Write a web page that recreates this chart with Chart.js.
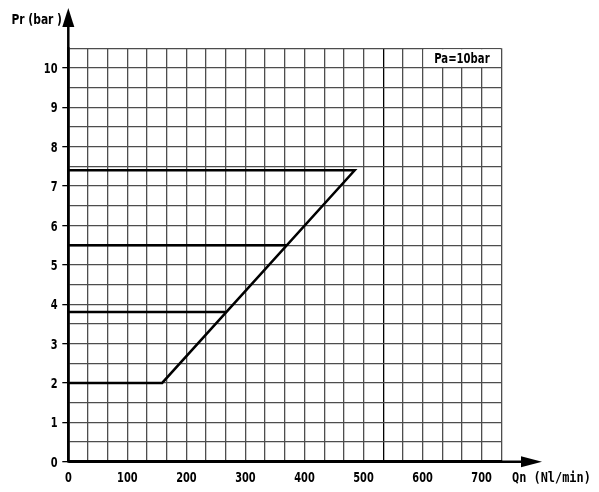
<!DOCTYPE html>
<html>
<head>
<meta charset="utf-8">
<script src="https://cdn.jsdelivr.net/npm/chart.js@4.4.1/dist/chart.umd.min.js"></script>
<style>
  body { margin: 0; background: #fff; }
  #wrap { width: 599px; height: 492px; position: relative; }
</style>
</head>
<body>
<div id="wrap"><canvas id="chart"></canvas></div>
<script>
// flow curve at Pa = 10 bar
const outerQ = [0, 485, 159, 0];
const outerP = [7.4, 7.4, 2, 2];
const midQ = [0, 369];
const midP = [5.5, 5.5];
const lowQ = [0, 266];
const lowP = [3.8, 3.8];

const xLabels = [0, 100, 200, 300, 400, 500, 600, 700];
const yLabels = [0, 1, 2, 3, 4, 5, 6, 7, 8, 9, 10];
const xMax = 2200 / 3;
const yMax = 10.5;

const FONT = "'DejaVu Sans Condensed', 'DejaVu Sans', sans-serif";
const MONO = "'DejaVu Sans Mono', monospace";

function pts(xs, ys) {
  return xs.map((x, i) => ({ x: x, y: ys[i] }));
}

function lineSet(xs, ys) {
  return {
    data: pts(xs, ys),
    showLine: true,
    borderColor: '#000',
    borderWidth: 2.5,
    pointRadius: 0,
    tension: 0,
    fill: false
  };
}

const near = (a, b) => Math.abs(a - b) < 1e-6;

// squeezed text, the drawing uses a narrow lettering
function narrowText(ctx, text, x, y, align, sx, font) {
  ctx.save();
  ctx.font = font;
  ctx.textAlign = align;
  ctx.textBaseline = 'middle';
  ctx.translate(x, y);
  ctx.scale(sx, 1);
  ctx.fillText(text, 0, 0);
  ctx.restore();
}

const axesPlugin = {
  id: 'axesPlugin',
  afterDraw(chart) {
    const ctx = chart.ctx;
    const x = chart.scales.x, y = chart.scales.y;
    const x0 = x.getPixelForValue(0), y0 = y.getPixelForValue(0);
    const lblFont = 'bold 14px ' + FONT;

    ctx.save();
    ctx.fillStyle = '#000';

    // tick labels
    xLabels.forEach(v => narrowText(ctx, String(v), x.getPixelForValue(v), y0 + 16.5, 'center', 0.78, lblFont));
    yLabels.forEach(v => narrowText(ctx, String(v), 57.5, y.getPixelForValue(v) + 1.5, 'right', 0.78, lblFont));

    // Pa box in the top row
    const bl = x.getPixelForValue(600), br = x.getPixelForValue(xMax);
    const bt = y.getPixelForValue(yMax), bb = y.getPixelForValue(10);
    ctx.fillStyle = '#fff';
    ctx.fillRect(bl + 1, bt + 1, br - bl - 2, bb - bt - 2);
    ctx.fillStyle = '#000';
    narrowText(ctx, 'Pa=10bar', (bl + br) / 2, (bt + bb) / 2 + 1, 'center', 0.8, lblFont);

    // axis extensions and arrows
    ctx.strokeStyle = '#000';
    ctx.lineWidth = 2.5;
    ctx.beginPath();
    ctx.moveTo(x0, y0);
    ctx.lineTo(x0, 20);
    ctx.moveTo(x0, y0);
    ctx.lineTo(528, y0);
    ctx.stroke();

    ctx.beginPath();
    ctx.moveTo(x0, 8);
    ctx.lineTo(x0 - 6, 27);
    ctx.lineTo(x0 + 6, 27);
    ctx.closePath();
    ctx.fill();

    ctx.beginPath();
    ctx.moveTo(542, y0);
    ctx.lineTo(521, y0 - 5.5);
    ctx.lineTo(521, y0 + 5.5);
    ctx.closePath();
    ctx.fill();

    // axis titles
    narrowText(ctx, 'Pr (bar )', 62, 20, 'right', 0.85, lblFont);
    narrowText(ctx, 'Qn (Nl/min)', 512, 478, 'left', 0.85, 'bold 14px ' + MONO);
    ctx.restore();
  }
};

new Chart(document.getElementById('chart'), {
  type: 'scatter',
  data: {
    datasets: [
      lineSet(outerQ, outerP),
      lineSet(midQ, midP),
      lineSet(lowQ, lowP)
    ]
  },
  options: {
    responsive: true,
    maintainAspectRatio: false,
    animation: false,
    layout: { padding: { top: 48.3, right: 97.7, left: 0, bottom: 0 } },
    plugins: {
      legend: { display: false },
      tooltip: { enabled: false }
    },
    scales: {
      x: {
        type: 'linear',
        min: 0,
        max: xMax,
        afterFit(scale) { scale.height = 30.3; },
        afterBuildTicks(scale) {
          scale.ticks = Array.from({ length: 23 }, (_, i) => ({ value: i * 100 / 3 }));
        },
        ticks: { display: false },
        grid: {
          drawTicks: false,
          lineWidth: 1.3,
          color: (c) => c.tick && near(c.tick.value, 1600 / 3) ? '#000' : '#4d4d4d'
        },
        border: { display: true, color: '#000', width: 2.5 }
      },
      y: {
        type: 'linear',
        min: 0,
        max: yMax,
        afterFit(scale) { scale.width = 68.3; },
        afterBuildTicks(scale) {
          scale.ticks = Array.from({ length: 22 }, (_, i) => ({ value: i * 0.5 }));
        },
        ticks: { display: false },
        grid: {
          tickLength: 6,
          lineWidth: 1.3,
          color: '#4d4d4d',
          tickColor: (c) => c.tick && Number.isInteger(c.tick.value) ? '#000' : 'rgba(0,0,0,0)'
        },
        border: { display: true, color: '#000', width: 2.5 }
      }
    }
  },
  plugins: [axesPlugin]
});
</script>
</body>
</html>
